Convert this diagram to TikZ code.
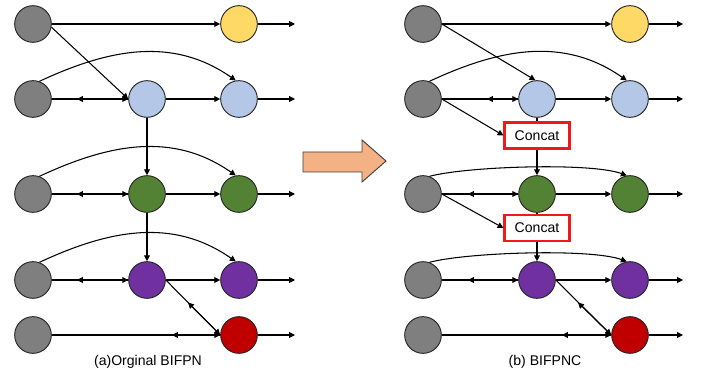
\documentclass[tikz,border=0pt]{standalone}
\usepackage{fontspec}
\setmainfont{Liberation Sans}
\usetikzlibrary{arrows.meta}
\definecolor{inGray}{HTML}{7F7F7F}
\definecolor{topYellow}{HTML}{FFD966}
\definecolor{lvBlue}{HTML}{B4C7E7}
\definecolor{lvGreen}{HTML}{548235}
\definecolor{lvPurple}{HTML}{7030A0}
\definecolor{lvRed}{HTML}{C00000}
\definecolor{catRed}{HTML}{F01818}
\definecolor{bigOrange}{HTML}{F4B183}

\begin{document}
\begin{tikzpicture}[x=0.03cm, y=-0.03cm, >={Triangle[length=5pt, width=5pt]},
    ball/.style={circle, draw=black!85, line width=0.8pt, minimum size=1.1cm, inner sep=0pt},
    cat/.style={draw=catRed, line width=1.8pt, fill=white, minimum width=1.95cm, minimum height=0.78cm, inner sep=0pt, font=\fontsize{12}{14}\selectfont},
    caption/.style={font=\fontsize{12}{14}\selectfont},
    every path/.style={line width=0.9pt}]
    \useasboundingbox (0,0) rectangle (703,376);

    % (a) left panel
    \node[ball, fill=inGray] at (33, 24) (l1) {};
    \node[ball, fill=inGray] at (33, 99) (l2) {};
    \node[ball, fill=inGray] at (33, 194) (l3) {};
    \node[ball, fill=inGray] at (33, 280) (l4) {};
    \node[ball, fill=inGray] at (33, 335) (l5) {};

    \node[ball, fill=lvBlue] at (147, 99) (l2m) {};
    \node[ball, fill=lvGreen] at (147, 194) (l3m) {};
    \node[ball, fill=lvPurple] at (147, 280) (l4m) {};

    \node[ball, fill=topYellow] at (239, 24) (l1o) {};
    \node[ball, fill=lvBlue] at (239, 99) (l2o) {};
    \node[ball, fill=lvGreen] at (239, 194) (l3o) {};
    \node[ball, fill=lvPurple] at (239, 280) (l4o) {};
    \node[ball, fill=lvRed] at (239, 335) (l5o) {};

    \coordinate (l1e) at (295, 24); \coordinate (l2e) at (295, 99); \coordinate (l3e) at (295, 194);
    \coordinate (l4e) at (295, 280); \coordinate (l5e) at (295, 335);
    \coordinate (l2b) at (77, 99); \coordinate (l3b) at (77, 194); \coordinate (l4b) at (77, 280);
    \coordinate (l5b) at (172, 335); \coordinate (l4d) at (188, 302.5);

    \node[caption] at (148, 362) (capA) {(a)Orginal BIFPN};

    \draw[->] (l1) -- (l1o); \draw[->] (l1.-10) -- (l2m.west);
    \draw[->] (l2) -- (l2m); \draw[->] (l2m) -- (l2b); \draw[->] (l2m) -- (l2o);
    \draw[->] (l3) -- (l3m); \draw[->] (l3m) -- (l3b); \draw[->] (l3m) -- (l3o);
    \draw[->] (l4) -- (l4m); \draw[->] (l4m) -- (l4b); \draw[->] (l4m) -- (l4o);
    \draw[->] (l5) -- (l5o); \draw[->] (l5o) -- (l5b);
    \draw[->] (l4m.east) -- (l5o.west); \draw[->] (l5o.west) -- (l4d);

    \draw[->] (l2m) -- (l3m); \draw[->] (l3m) -- (l4m);

    \draw[->] (l2.70) to[out=25, in=145] (l2o.100);
    \draw[->] (l3.70) to[out=25, in=145] (l3o.100);
    \draw[->] (l4.70) to[out=25, in=145] (l4o.100);

    \draw[->] (l1o) -- (l1e); \draw[->] (l2o) -- (l2e); \draw[->] (l3o) -- (l3e);
    \draw[->] (l4o) -- (l4e); \draw[->] (l5o) -- (l5e);

    % big arrow
    \draw[fill=bigOrange, draw=black!75, line width=0.8pt] (303,152) -- (362,152) -- (362,140) -- (386,161)
        -- (362,182) -- (362,172) -- (303,172) -- cycle;

    % (b) right panel
    \node[ball, fill=inGray] at (423, 24) (r1) {};
    \node[ball, fill=inGray] at (423, 99) (r2) {};
    \node[ball, fill=inGray] at (423, 194) (r3) {};
    \node[ball, fill=inGray] at (423, 280) (r4) {};
    \node[ball, fill=inGray] at (423, 335) (r5) {};

    \node[ball, fill=lvBlue] at (537, 99) (r2m) {};
    \node[ball, fill=lvGreen] at (537, 194) (r3m) {};
    \node[ball, fill=lvPurple] at (537, 280) (r4m) {};

    \node[ball, fill=topYellow] at (630, 24) (r1o) {};
    \node[ball, fill=lvBlue] at (630, 99) (r2o) {};
    \node[ball, fill=lvGreen] at (630, 194) (r3o) {};
    \node[ball, fill=lvPurple] at (630, 280) (r4o) {};
    \node[ball, fill=lvRed] at (630, 335) (r5o) {};

    \node[cat] at (537, 135.5) (c1) {Concat};
    \node[cat] at (537, 228) (c2) {Concat};

    \coordinate (r1e) at (683, 24); \coordinate (r2e) at (683, 99); \coordinate (r3e) at (683, 194);
    \coordinate (r4e) at (683, 280); \coordinate (r5e) at (683, 335);
    \coordinate (r2b) at (487, 99); \coordinate (r3b) at (468, 194); \coordinate (r4b) at (468, 280);
    \coordinate (r5b) at (562, 335); \coordinate (r4d) at (578, 302.5);

    \node[caption] at (545, 362) (capB) {(b) BIFPNC};

    \draw[->] (r1) -- (r1o); \draw[->] (r1.east) -- (r2m.95);
    \draw[->] (r2) -- (r2m); \draw[->] (r2m) -- (r2b); \draw[->] (r2m) -- (r2o);
    \draw[->] (r3) -- (r3m); \draw[->] (r3m) -- (r3b); \draw[->] (r3m) -- (r3o);
    \draw[->] (r4) -- (r4m); \draw[->] (r4m) -- (r4b); \draw[->] (r4m) -- (r4o);
    \draw[->] (r5) -- (r5o); \draw[->] (r5o) -- (r5b);
    \draw[->] (r4m.east) -- (r5o.west); \draw[->] (r5o.west) -- (r4d);

    \draw (r2m) -- (c1); \draw[->] (c1) -- (r3m);
    \draw (r3m) -- (c2); \draw[->] (c2) -- (r4m);
    \draw[->] (r2.east) -- (c1.west); \draw[->] (r3.east) -- (c2.west);

    \draw[->] (r2.70) to[out=25, in=145] (r2o.100);
    \draw[->] (r3.70) to[out=15, in=160, looseness=0.5] (r3o.100);
    \draw[->] (r4.70) to[out=15, in=160, looseness=0.5] (r4o.100);

    \draw[->] (r1o) -- (r1e); \draw[->] (r2o) -- (r2e); \draw[->] (r3o) -- (r3e);
    \draw[->] (r4o) -- (r4e); \draw[->] (r5o) -- (r5e);
\end{tikzpicture}
\end{document}
